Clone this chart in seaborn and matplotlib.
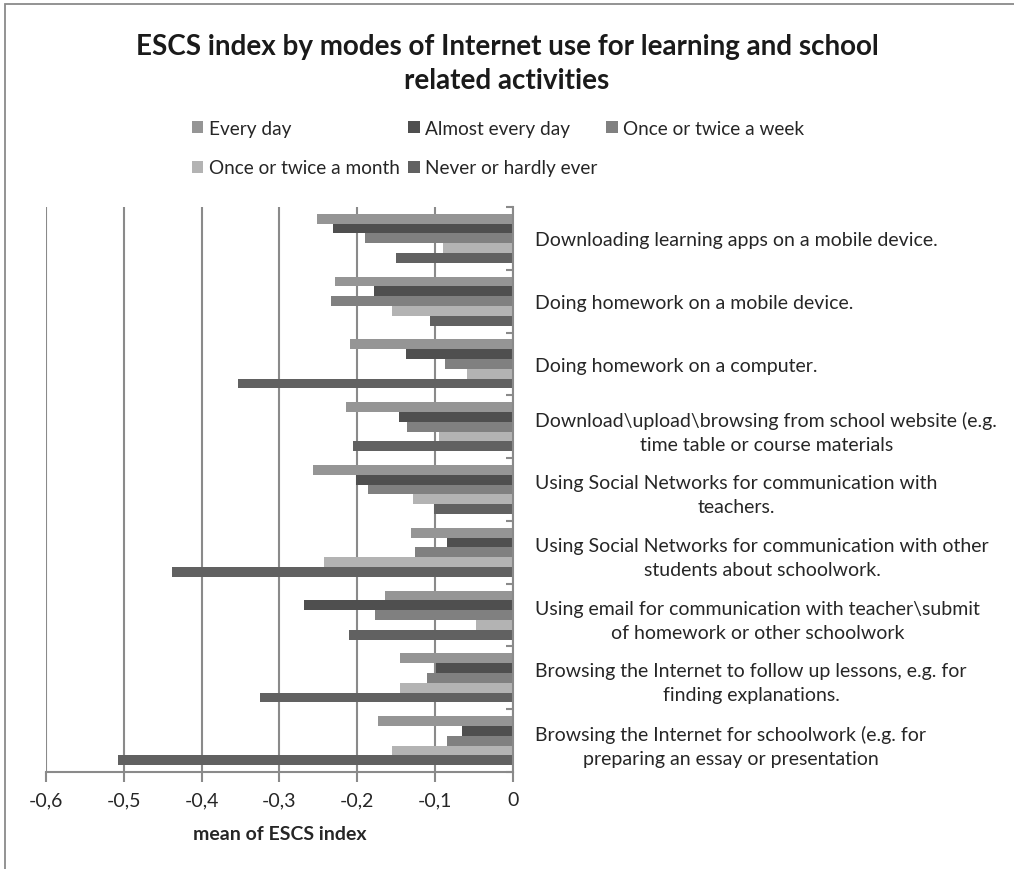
import matplotlib
matplotlib.use("Agg")
import matplotlib.pyplot as plt
from matplotlib.patches import Patch, Rectangle
from matplotlib.ticker import FixedLocator, FuncFormatter
import numpy as np
import pandas as pd
import seaborn as sns

activities = [
    "Downloading learning apps on a mobile device.",
    "Doing homework on a mobile device.",
    "Doing homework on a computer.",
    "Download\\upload\\browsing from school website (e.g.\ntime table or course materials",
    "Using Social Networks for communication with\nteachers.",
    "Using Social Networks for communication with other\nstudents about schoolwork.",
    "Using email for communication with teacher\\submit\nof homework or other schoolwork",
    "Browsing the Internet to follow up lessons, e.g. for\nfinding explanations.",
    "Browsing the Internet for schoolwork (e.g. for\npreparing an essay or presentation",
]
frequencies = ["Every day", "Almost every day", "Once or twice a week",
               "Once or twice a month", "Never or hardly ever"]

every_day = [-0.252, -0.229, -0.209, -0.215, -0.257, -0.131, -0.164, -0.145, -0.174]
almost_every_day = [-0.231, -0.179, -0.138, -0.147, -0.202, -0.085, -0.269, -0.099, -0.065]
once_week = [-0.190, -0.234, -0.087, -0.136, -0.186, -0.126, -0.177, -0.110, -0.085]
once_month = [-0.090, -0.156, -0.059, -0.095, -0.129, -0.243, -0.047, -0.145, -0.155]
never = [-0.150, -0.106, -0.353, -0.206, -0.102, -0.438, -0.211, -0.325, -0.508]

colors = ["#959595", "#4f4f4f", "#808080", "#b3b3b3", "#616161"]

series = [every_day, almost_every_day, once_week, once_month, never]
rows = []
for freq, vals in zip(frequencies, series):
    for act, v in zip(activities, vals):
        rows.append({"activity": act, "frequency": freq, "value": v})
df = pd.DataFrame(rows)

sns.set_theme(style="white")
plt.rcParams["font.family"] = ["Lato", "DejaVu Sans"]

W, H = 1014, 870
fig = plt.figure(figsize=(W / 100, H / 100), dpi=100)
ax = fig.add_axes([46 / W, 1 - 773 / H, (513 - 46) / W, (773 - 208) / H])

sns.barplot(data=df, x="value", y="activity", hue="frequency",
            hue_order=frequencies, order=activities, palette=colors,
            orient="h", width=0.78, legend=False, ax=ax,
            edgecolor="none", linewidth=0)

grid_col = "#8a8a8a"
text_col = "#262626"
ax.set_xlim(-0.6, 0)
ax.set_xticks(np.arange(-0.6, 0.01, 0.1))
ax.xaxis.set_major_formatter(FuncFormatter(
    lambda v, p: "0" if abs(v) < 1e-9 else f"{v:.1f}".replace(".", ",")))
ax.grid(axis="x", color=grid_col, linewidth=1.5)
ax.grid(axis="y", visible=False)
ax.set_axisbelow(True)

for s in ["top", "left"]:
    ax.spines[s].set_visible(False)
for s in ["bottom", "right"]:
    ax.spines[s].set_color(grid_col)
    ax.spines[s].set_linewidth(1.5)

ax.tick_params(axis="x", which="major", bottom=True, direction="out",
               length=7, width=1.5, color=grid_col, labelsize=14,
               labelcolor=text_col, pad=7)

# category labels on the right of the zero line
ax.yaxis.tick_right()
ax.tick_params(axis="y", which="major", length=0, pad=16, labelsize=14,
               labelcolor=text_col)
for lab in ax.get_yticklabels():
    lab.set_horizontalalignment("left")
    lab.set_multialignment("center")
    lab.set_linespacing(1.5)
ax.yaxis.set_minor_locator(FixedLocator(np.arange(-0.5, len(activities), 1)))
ax.tick_params(axis="y", which="minor", right=True, left=False,
               direction="in", length=5, width=1.5, color=grid_col)

ax.set_ylabel("")
ax.set_xlabel("mean of ESCS index", fontsize=14, fontweight="bold",
              color=text_col, labelpad=12)

fig.text(0.5, 1 - 34 / H,
         "ESCS index by modes of Internet use for learning and school\nrelated activities",
         ha="center", va="top", fontsize=20, fontweight="bold",
         color="#1a1a1a", linespacing=1.4)

# legend: row-wise order like the reference
order = [0, 3, 1, 4, 2]
handles = [Patch(facecolor=colors[i], edgecolor="none") for i in order]
labels = [frequencies[i] for i in order]
fig.legend(handles, labels, loc="upper left", bbox_to_anchor=(184 / W, 1 - 113 / H),
           ncol=3, frameon=False, fontsize=13.7, handlelength=0.6,
           handleheight=0.6, handletextpad=0.3, columnspacing=0.45,
           labelspacing=1.2, labelcolor=text_col, borderaxespad=0)

# chart-area frame (top and left edges visible)
fig.patches.append(Rectangle((5 / W, -0.05), 1.2, 1.05 - 5 / H,
                             transform=fig.transFigure, fill=False,
                             edgecolor=grid_col, linewidth=1.3))

fig.savefig("out.png", dpi=100)
